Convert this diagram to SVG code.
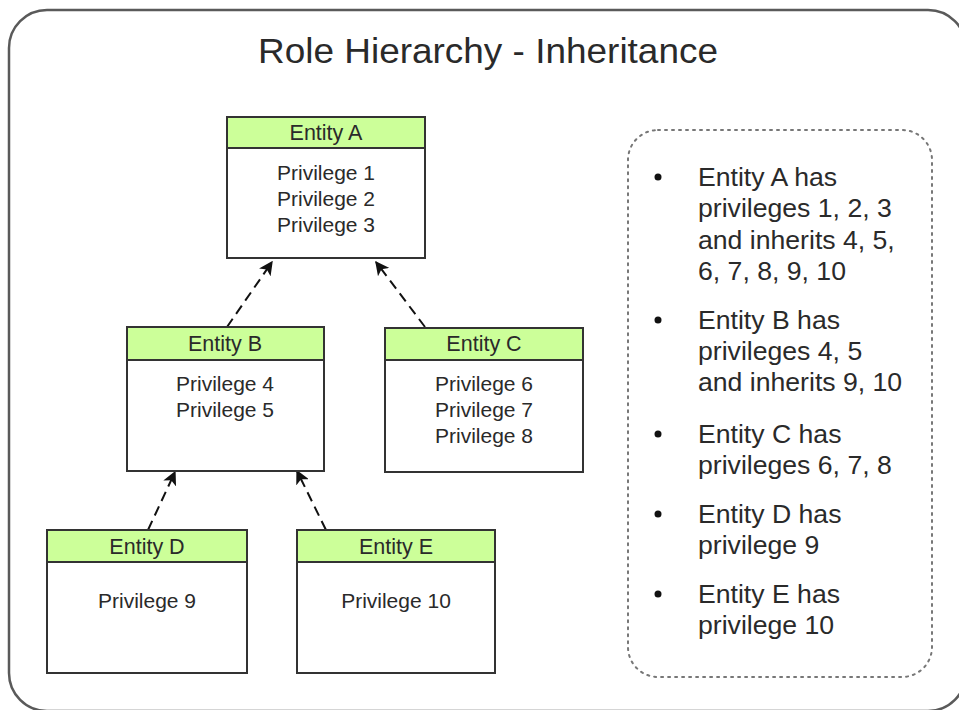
<svg xmlns="http://www.w3.org/2000/svg" width="959" height="710" viewBox="0 0 959 710">
<defs>
<style>
.frame{fill:#fff;stroke:#5a5a5a;stroke-width:2.5}
.note{fill:none;stroke:#777;stroke-width:2;stroke-dasharray:2 5;stroke-linecap:round}
.hdr{fill:#ccff99;stroke:#333;stroke-width:2}
.body{fill:#fff;stroke:#333;stroke-width:2}
.t{font-family:"Liberation Sans",Arial,sans-serif;fill:#2a2a2a;text-anchor:middle}
.pt{font-family:"Liberation Sans",Arial,sans-serif;fill:#2a2a2a;font-size:21px;text-anchor:middle}
.ht{font-family:"Liberation Sans",Arial,sans-serif;fill:#2a2a2a;font-size:21.5px;text-anchor:middle}
.bt{font-family:"Liberation Sans",Arial,sans-serif;fill:#2a2a2a;font-size:25px}
.conn{stroke:#111;stroke-width:2;stroke-dasharray:10 6;fill:none}
</style>
<marker id="ah" viewBox="0 0 10 10" refX="9" refY="5" markerWidth="14" markerHeight="14" markerUnits="userSpaceOnUse" orient="auto">
<path d="M0,0 L10,5 L0,10 L2.5,5 Z" fill="#111"/>
</marker>
</defs>
<rect class="frame" x="9" y="10" width="957" height="701" rx="38"/>
<text class="t" x="488" y="63" font-size="35" textLength="460" lengthAdjust="spacingAndGlyphs">Role Hierarchy - Inheritance</text>

<g id="connectors">
<line class="conn" x1="227" y1="327" x2="272" y2="262" marker-end="url(#ah)"/>
<line class="conn" x1="425" y1="327" x2="376" y2="262" marker-end="url(#ah)"/>
<line class="conn" x1="148" y1="530" x2="175" y2="472" marker-end="url(#ah)"/>
<line class="conn" x1="326" y1="530" x2="297" y2="471" marker-end="url(#ah)"/>
</g>

<g id="entityA">
<rect class="body" x="227" y="117" width="198" height="141"/>
<rect class="hdr" x="227" y="117" width="198" height="31"/>
<text class="ht" x="326" y="140">Entity A</text>
<text class="pt" x="326" y="180">Privilege 1</text>
<text class="pt" x="326" y="206">Privilege 2</text>
<text class="pt" x="326" y="232">Privilege 3</text>
</g>

<g id="entityB">
<rect class="body" x="127" y="327" width="197" height="144"/>
<rect class="hdr" x="127" y="327" width="197" height="33"/>
<text class="ht" x="225" y="351">Entity B</text>
<text class="pt" x="225" y="391">Privilege 4</text>
<text class="pt" x="225" y="417">Privilege 5</text>
</g>

<g id="entityC">
<rect class="body" x="385" y="328" width="198" height="144"/>
<rect class="hdr" x="385" y="328" width="198" height="32"/>
<text class="ht" x="484" y="351">Entity C</text>
<text class="pt" x="484" y="391">Privilege 6</text>
<text class="pt" x="484" y="417">Privilege 7</text>
<text class="pt" x="484" y="443">Privilege 8</text>
</g>

<g id="entityD">
<rect class="body" x="47" y="530" width="200" height="143"/>
<rect class="hdr" x="47" y="530" width="200" height="32"/>
<text class="ht" x="147" y="554">Entity D</text>
<text class="pt" x="147" y="608">Privilege 9</text>
</g>

<g id="entityE">
<rect class="body" x="297" y="530" width="198" height="143"/>
<rect class="hdr" x="297" y="530" width="198" height="32"/>
<text class="ht" x="396" y="554">Entity E</text>
<text class="pt" x="396" y="608">Privilege 10</text>
</g>

<g id="notes">
<rect class="note" x="628" y="130" width="304" height="547" rx="30"/>
<g fill="#111">
<circle cx="658" cy="177" r="3.5"/>
<circle cx="658" cy="320" r="3.5"/>
<circle cx="658" cy="434" r="3.5"/>
<circle cx="658" cy="514" r="3.5"/>
<circle cx="658" cy="594" r="3.5"/>
</g>
<g transform="translate(698,0) scale(1.065,1)">
<text class="bt" x="0" y="186">Entity A has</text>
<text class="bt" x="0" y="217">privileges 1, 2, 3</text>
<text class="bt" x="0" y="249">and inherits 4, 5,</text>
<text class="bt" x="0" y="280">6, 7, 8, 9, 10</text>
<text class="bt" x="0" y="329">Entity B has</text>
<text class="bt" x="0" y="360">privileges 4, 5</text>
<text class="bt" x="0" y="391">and inherits 9, 10</text>
<text class="bt" x="0" y="443">Entity C has</text>
<text class="bt" x="0" y="474">privileges 6, 7, 8</text>
<text class="bt" x="0" y="523">Entity D has</text>
<text class="bt" x="0" y="554">privilege 9</text>
<text class="bt" x="0" y="603">Entity E has</text>
<text class="bt" x="0" y="634">privilege 10</text>
</g>
</g>
</svg>
